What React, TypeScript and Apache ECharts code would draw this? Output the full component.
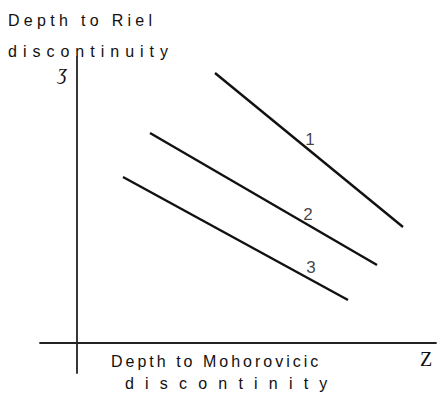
import React, { useEffect, useRef } from "react";
import * as echarts from "echarts";

// Depth relationships between the Riel and Mohorovicic discontinuities.
// Each curve: [depth to Mohorovicic, depth to Riel] at its two ends.
const curveNames = ["1", "2", "3"];
const curve1 = [
  [138, 270],
  [326, 116],
];
const curve2 = [
  [73, 210],
  [300, 78],
];
const curve3 = [
  [46, 166],
  [271, 43],
];
const curveLabelPositions = [
  [233, 204],
  [231, 129],
  [234, 76],
];

const xRange = [-37, 359];
const yRange = [-30, 286];

const yTitleLines = ["Depth to Riel", "discontinuity"];
const xTitleLines = ["Depth to Mohorovicic", "discontinity"];
const yAxisSymbol = "ʒ";
const xAxisSymbol = "Z";

// Tracking (px) for the widely spaced, typewriter-like captions.
const tracking: Record<string, number> = {
  "Depth to Riel": 4.3,
  discontinuity: 6,
  "Depth to Mohorovicic": 3,
  discontinity: 11.2,
};

const INK = "#111111";
const SANS = "'Liberation Sans', Arial, sans-serif";
const SERIF = "'Liberation Serif', 'DejaVu Serif', serif";

export default function App() {
  const ref = useRef<HTMLDivElement>(null);

  useEffect(() => {
    if (!ref.current) return;
    const el = ref.current;
    const chart = echarts.init(el, undefined, { renderer: "svg" });

    const lineSeries = [curve1, curve2, curve3].map((pts, i) => ({
      name: curveNames[i],
      type: "line" as const,
      data: pts,
      showSymbol: false,
      symbol: "none",
      silent: true,
      lineStyle: { color: INK, width: 2.4 },
    }));

    chart.setOption({
      animation: false,
      backgroundColor: "#ffffff",
      grid: { left: 40, right: 2, top: 57, bottom: 21 },
      xAxis: {
        type: "value",
        min: xRange[0],
        max: xRange[1],
        axisLine: { show: true, onZero: true, lineStyle: { color: "#222", width: 1.8 } },
        axisTick: { show: false },
        axisLabel: { show: false },
        splitLine: { show: false },
      },
      yAxis: {
        type: "value",
        min: yRange[0],
        max: yRange[1],
        axisLine: { show: true, onZero: true, lineStyle: { color: "#222", width: 1.8 } },
        axisTick: { show: false },
        axisLabel: { show: false },
        splitLine: { show: false },
      },
      series: [
        ...lineSeries,
        {
          type: "scatter",
          silent: true,
          symbolSize: 0,
          data: curveLabelPositions.map((p, i) => ({ value: p, name: curveNames[i] })),
          label: {
            show: true,
            position: "inside",
            formatter: (p: any) => p.name,
            color: INK,
            fontSize: 17,
            fontFamily: SANS,
          },
        },
      ],
      graphic: [
        {
          type: "text",
          x: 8,
          y: 20,
          silent: true,
          style: { text: yTitleLines[0], font: `16px ${SANS}`, fill: INK, textAlign: "left", textVerticalAlign: "middle" },
        },
        {
          type: "text",
          x: 8,
          y: 51,
          silent: true,
          style: { text: yTitleLines[1], font: `16px ${SANS}`, fill: INK, textAlign: "left", textVerticalAlign: "middle" },
        },
        {
          type: "text",
          x: 58,
          y: 72,
          silent: true,
          style: { text: yAxisSymbol, font: `italic 20px ${SERIF}`, fill: INK, textAlign: "left", textVerticalAlign: "middle" },
        },
        {
          type: "text",
          x: 111,
          y: 361,
          silent: true,
          style: { text: xTitleLines[0], font: `16px ${SANS}`, fill: INK, textAlign: "left", textVerticalAlign: "middle" },
        },
        {
          type: "text",
          x: 125,
          y: 383,
          silent: true,
          style: { text: xTitleLines[1], font: `16px ${SANS}`, fill: INK, textAlign: "left", textVerticalAlign: "middle" },
        },
        {
          type: "text",
          x: 420,
          y: 359,
          silent: true,
          style: { text: xAxisSymbol, font: `20px ${SERIF}`, fill: INK, textAlign: "left", textVerticalAlign: "middle" },
        },
      ],
    });

    const applyTracking = () => {
      el.querySelectorAll("text").forEach((t) => {
        const s = tracking[(t.textContent || "").trim()];
        if (s !== undefined) (t as SVGTextElement).style.letterSpacing = `${s}px`;
      });
    };
    applyTracking();
    chart.on("finished", applyTracking);
    const timer = window.setTimeout(applyTracking, 50);
    const raf = requestAnimationFrame(applyTracking);

    return () => {
      window.clearTimeout(timer);
      cancelAnimationFrame(raf);
      chart.dispose();
    };
  }, []);

  return (
    <div
      ref={ref}
      style={{ position: "fixed", left: 0, top: 0, width: 438, height: 394, background: "#fff" }}
    />
  );
}
